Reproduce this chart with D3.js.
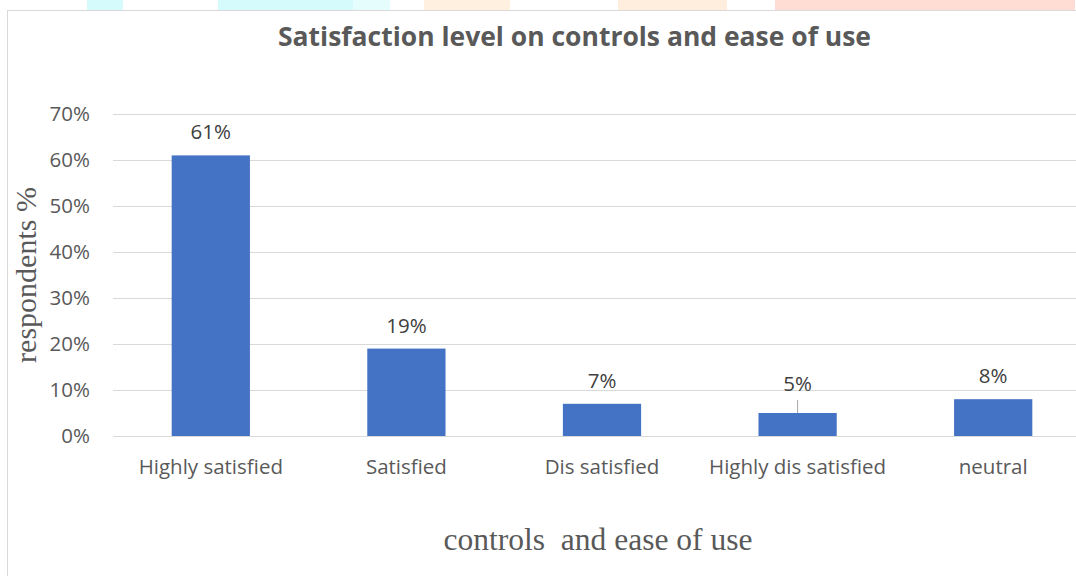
<!DOCTYPE html>
<html>
<head>
<meta charset="utf-8">
<script src="https://cdn.jsdelivr.net/npm/d3@7"></script>
<style>
  body { margin: 0; background: #fff; }
  svg { display: block; }
</style>
</head>
<body>
<div id="chart"></div>
<script>
// chart data
const categories = ["Highly satisfied", "Satisfied", "Dis satisfied", "Highly dis satisfied", "neutral"];
const values = [0.61, 0.19, 0.07, 0.05, 0.08];
const yTicks = [0, 0.1, 0.2, 0.3, 0.4, 0.5, 0.6, 0.7];

const W = 1076, H = 576;
const margin = {top: 114, left: 113};
const plotRight = 1091;
const baseY = 436;
const sans = "'Open Sans', 'Noto Sans', sans-serif";
const serif = "'Liberation Serif', 'Times New Roman', serif";
const labelSize = 20.5;
const leaderIndex = 3;   // this label was dragged up, with a leader line

const svg = d3.select("#chart").append("svg")
    .attr("width", W)
    .attr("height", H);

// faint coloured strips bleeding in at the top of the scan
const strips = [
  {x: 87, w: 36, c: "#d5fbfd"},
  {x: 218, w: 135, c: "#d5fbfd"},
  {x: 353, w: 37, c: "#e6fdfd"},
  {x: 424, w: 86, c: "#fff0e0"},
  {x: 618, w: 109, c: "#ffeedd"},
  {x: 775, w: 300, c: "#ffdcd4"}
];
svg.selectAll("rect.strip").data(strips).enter().append("rect")
    .attr("class", "strip")
    .attr("x", d => d.x).attr("y", 0)
    .attr("width", d => d.w).attr("height", 10)
    .attr("fill", d => d.c);

// chart frame
svg.append("rect")
    .attr("x", 7.5).attr("y", 10.5)
    .attr("width", 1100).attr("height", 600)
    .attr("fill", "#fff")
    .attr("stroke", "#d9d9d9");

const x = d3.scaleBand()
    .domain(categories)
    .range([margin.left, plotRight])
    .paddingInner(0.6)
    .paddingOuter(0.3);

const y = d3.scaleLinear()
    .domain([0, 0.7])
    .range([baseY, margin.top]);

// gridlines
svg.append("g")
    .selectAll("line")
    .data(yTicks)
    .enter().append("line")
    .attr("x1", margin.left).attr("x2", plotRight)
    .attr("y1", d => Math.round(y(d)) + 0.5)
    .attr("y2", d => Math.round(y(d)) + 0.5)
    .attr("stroke", "#d9d9d9")
    .attr("stroke-width", 1);

// y axis labels
const yAxis = svg.append("g")
    .attr("transform", "translate(" + (margin.left - 23) + ",0)")
    .call(d3.axisLeft(y).tickValues(yTicks).tickFormat(d3.format(".0%")).tickSize(0).tickPadding(0));
yAxis.select(".domain").remove();
yAxis.selectAll("text")
    .attr("font-family", sans)
    .attr("font-size", labelSize)
    .attr("fill", "#595959");

// x axis labels
const xAxis = svg.append("g")
    .attr("transform", "translate(0," + baseY + ")")
    .call(d3.axisBottom(x).tickSize(0).tickPadding(23));
xAxis.select(".domain").remove();
xAxis.selectAll("text")
    .attr("font-family", sans)
    .attr("font-size", labelSize)
    .attr("fill", "#595959");

// bars
svg.append("g")
    .selectAll("rect")
    .data(values)
    .enter().append("rect")
    .attr("x", (d, i) => x(categories[i]))
    .attr("y", d => y(d))
    .attr("width", x.bandwidth())
    .attr("height", d => y(0) - y(d))
    .attr("fill", "#4472c4");

// leader line on the small bar
svg.append("line")
    .attr("x1", x(categories[leaderIndex]) + x.bandwidth() / 2)
    .attr("x2", x(categories[leaderIndex]) + x.bandwidth() / 2)
    .attr("y1", y(values[leaderIndex]) - 13)
    .attr("y2", y(values[leaderIndex]))
    .attr("stroke", "#a6a6a6");

// data labels
svg.append("g")
    .selectAll("text")
    .data(values)
    .enter().append("text")
    .attr("x", (d, i) => x(categories[i]) + x.bandwidth() / 2)
    .attr("y", (d, i) => y(d) - (i === leaderIndex ? 22 : 16))
    .attr("text-anchor", "middle")
    .attr("font-family", sans)
    .attr("font-size", labelSize)
    .attr("fill", "#404040")
    .text(d => d3.format(".0%")(d));

// title
svg.append("text")
    .attr("x", 574.5)
    .attr("y", 46)
    .attr("text-anchor", "middle")
    .attr("font-family", sans)
    .attr("font-weight", "bold")
    .attr("font-size", 27)
    .attr("textLength", 593)
    .attr("lengthAdjust", "spacingAndGlyphs")
    .attr("fill", "#595959")
    .text("Satisfaction level on controls and ease of use");

// y axis title
svg.append("text")
    .attr("transform", "translate(36,275) rotate(-90)")
    .attr("text-anchor", "middle")
    .attr("font-family", serif)
    .attr("font-size", 30)
    .attr("fill", "#595959")
    .text("respondents %");

// x axis title
svg.append("text")
    .attr("x", 598)
    .attr("y", 550)
    .attr("text-anchor", "middle")
    .attr("font-family", serif)
    .attr("font-size", 31.5)
    .attr("fill", "#595959")
    .style("white-space", "pre")
    .text("controls  and ease of use");
</script>
</body>
</html>
